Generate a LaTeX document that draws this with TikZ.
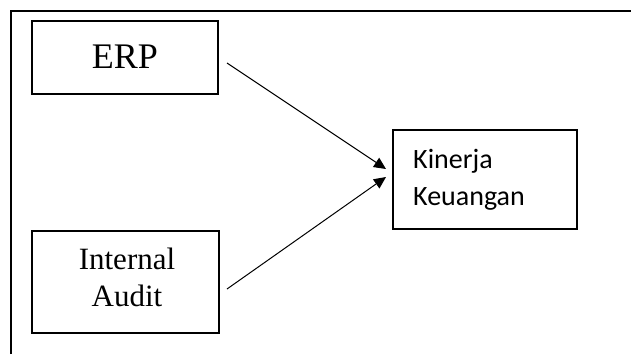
\documentclass[tikz,border=0pt]{standalone}
\usepackage{fontspec}
\setmainfont{Liberation Serif}
\newfontfamily\carlitofont{Carlito}
\usetikzlibrary{arrows.meta}
\begin{document}
\begin{tikzpicture}[x=1pt,y=-1pt,
  boxst/.style={draw,line width=1.3pt,minimum width=#1,inner sep=0pt},
  arr/.style={line width=1pt,-{Triangle[length=12pt,width=11pt]}}]
\useasboundingbox (0,0) rectangle (631,354);
\draw[line width=1.3pt] (11,354) -- (11,11) -- (631,11);
\node[boxst=186pt,minimum height=73pt] (erp) at (125,57.5) {};
\node[font=\fontsize{36}{38}\selectfont,anchor=base] (erpt) at (125,68) {ERP};
\node[boxst=187pt,minimum height=102pt] (ia) at (125.5,282) {};
\node[font=\fontsize{31}{37}\selectfont,align=center,anchor=base] (iat) at (127,306) {Internal\\Audit};
\node[boxst=184pt,minimum height=99pt] (kin) at (485,179.5) {};
\node[font=\carlitofont\fontsize{28}{37}\selectfont,align=left,anchor=base west,inner sep=0pt] (kint) at (413,205) {Kinerja\\Keuangan};
\coordinate (s1) at (227,63);
\coordinate (s2) at (227,289);
\coordinate (e1) at (386,169);
\coordinate (e2) at (386,177);
\draw[arr] (s1) -- (e1);
\draw[arr] (s2) -- (e2);
\end{tikzpicture}
\end{document}
